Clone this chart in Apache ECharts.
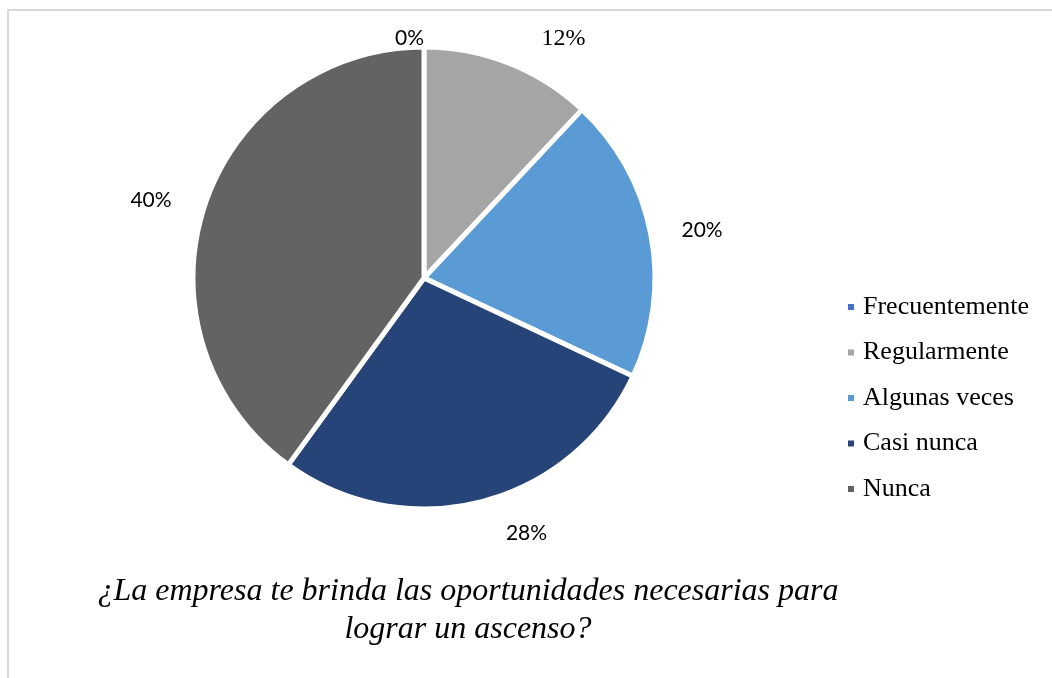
<!DOCTYPE html>
<html>
<head>
<meta charset="utf-8">
<style>
  html, body { margin: 0; padding: 0; background: #fff; }
  #chart { width: 1052px; height: 678px; }
</style>
<script src="https://cdn.jsdelivr.net/npm/echarts@6/dist/echarts.min.js"></script>
</head>
<body>
<div id="chart"></div>
<script>
// Respuestas a la pregunta sobre oportunidades de ascenso (porcentaje)
const categories = ['Frecuentemente', 'Regularmente', 'Algunas veces', 'Casi nunca', 'Nunca'];
const percentages = [0, 12, 20, 28, 40];
const sliceColors = ['#4472C4', '#A5A5A5', '#5B9BD5', '#264478', '#636363'];
const chartTitle = '¿La empresa te brinda las oportunidades necesarias para\nlograr un ascenso?';

// small per-label nudges (px) applied after the automatic outside placement
const labelNudge = [[5, 17], [18, 0], [0, 0], [13, 6], [-3, 2]];

const sansLabel = { fontFamily: 'Lato', fontSize: 21, color: '#000' };
const serifLabel = { fontFamily: 'Liberation Serif', fontSize: 24, color: '#000' };

const pieData = categories.map((name, i) => ({
  name: name,
  value: percentages[i],
  itemStyle: { color: sliceColors[i] },
  label: name === 'Regularmente' ? serifLabel : sansLabel
}));

const chart = echarts.init(document.getElementById('chart'), null, { renderer: 'canvas' });
chart.setOption({
  animation: false,
  backgroundColor: '#fff',
  graphic: [{
    type: 'rect',
    shape: { x: 8, y: 10, width: 1100, height: 700 },
    style: { fill: 'none', stroke: '#d9d9d9', lineWidth: 2 },
    silent: true
  }],
  title: {
    text: chartTitle,
    left: 463,
    top: 568,
    textAlign: 'center',
    textStyle: {
      fontFamily: 'Liberation Serif',
      fontStyle: 'italic',
      fontWeight: 'normal',
      fontSize: 32,
      lineHeight: 38,
      color: '#000'
    }
  },
  legend: {
    orient: 'vertical',
    left: 841,
    top: 289,
    icon: 'rect',
    itemWidth: 8,
    itemHeight: 8,
    itemGap: 19.5,
    textStyle: {
      fontFamily: 'Liberation Serif',
      fontSize: 26,
      lineHeight: 26,
      color: '#000',
      padding: [0, 0, 0, 3]
    },
    data: categories
  },
  series: [{
    type: 'pie',
    center: [424, 278],
    radius: 231,
    startAngle: 90,
    clockwise: true,
    stillShowZeroSum: true,
    avoidLabelOverlap: false,
    itemStyle: { borderColor: '#fff', borderWidth: 5 },
    label: {
      show: true,
      position: 'outside',
      formatter: p => p.value + '%'
    },
    labelLine: { show: false, length: 26, length2: 0 },
    labelLayout: p => ({ dx: labelNudge[p.dataIndex][0], dy: labelNudge[p.dataIndex][1] }),
    emphasis: { disabled: true },
    data: pieData
  }]
});
</script>
</body>
</html>
